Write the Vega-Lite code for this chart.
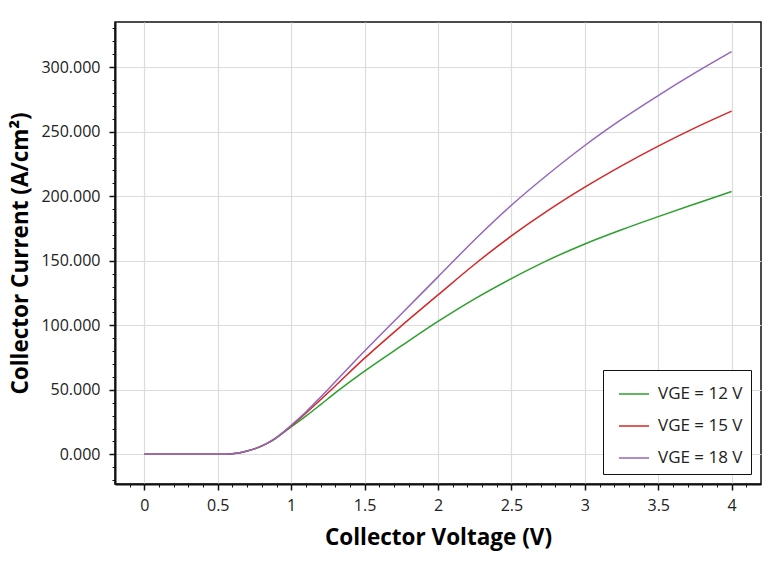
{
  "$schema": "https://vega.github.io/schema/vega-lite/v6.json",
  "width": 646,
  "height": 462,
  "autosize": {"type": "none"},
  "padding": {"left": 115, "top": 22, "right": 23, "bottom": 78},
  "background": "white",
  "data": {
    "values": [
      {"v": 0, "i": 0, "s": "VGE = 12 V"},
      {"v": 0.25, "i": 0, "s": "VGE = 12 V"},
      {"v": 0.5, "i": 0, "s": "VGE = 12 V"},
      {"v": 0.55, "i": 0.1, "s": "VGE = 12 V"},
      {"v": 0.6, "i": 0.4, "s": "VGE = 12 V"},
      {"v": 0.65, "i": 1.2, "s": "VGE = 12 V"},
      {"v": 0.7, "i": 2.5, "s": "VGE = 12 V"},
      {"v": 0.75, "i": 4.2, "s": "VGE = 12 V"},
      {"v": 0.8, "i": 6.4, "s": "VGE = 12 V"},
      {"v": 0.85, "i": 9.2, "s": "VGE = 12 V"},
      {"v": 0.9, "i": 12.8, "s": "VGE = 12 V"},
      {"v": 0.95, "i": 17.0, "s": "VGE = 12 V"},
      {"v": 1.0, "i": 21.3, "s": "VGE = 12 V"},
      {"v": 1.1, "i": 29.6, "s": "VGE = 12 V"},
      {"v": 1.2, "i": 38.5, "s": "VGE = 12 V"},
      {"v": 1.3, "i": 47.6, "s": "VGE = 12 V"},
      {"v": 1.5, "i": 64.5, "s": "VGE = 12 V"},
      {"v": 1.75, "i": 84.0, "s": "VGE = 12 V"},
      {"v": 2.0, "i": 103.0, "s": "VGE = 12 V"},
      {"v": 2.25, "i": 120.5, "s": "VGE = 12 V"},
      {"v": 2.5, "i": 136.2, "s": "VGE = 12 V"},
      {"v": 2.75, "i": 150.5, "s": "VGE = 12 V"},
      {"v": 3.0, "i": 163.0, "s": "VGE = 12 V"},
      {"v": 3.25, "i": 174.0, "s": "VGE = 12 V"},
      {"v": 3.5, "i": 184.2, "s": "VGE = 12 V"},
      {"v": 3.75, "i": 194.0, "s": "VGE = 12 V"},
      {"v": 4.0, "i": 203.6, "s": "VGE = 12 V"},

      {"v": 0, "i": 0, "s": "VGE = 15 V"},
      {"v": 0.25, "i": 0, "s": "VGE = 15 V"},
      {"v": 0.5, "i": 0, "s": "VGE = 15 V"},
      {"v": 0.55, "i": 0.1, "s": "VGE = 15 V"},
      {"v": 0.6, "i": 0.4, "s": "VGE = 15 V"},
      {"v": 0.65, "i": 1.2, "s": "VGE = 15 V"},
      {"v": 0.7, "i": 2.5, "s": "VGE = 15 V"},
      {"v": 0.75, "i": 4.2, "s": "VGE = 15 V"},
      {"v": 0.8, "i": 6.5, "s": "VGE = 15 V"},
      {"v": 0.85, "i": 9.4, "s": "VGE = 15 V"},
      {"v": 0.9, "i": 13.0, "s": "VGE = 15 V"},
      {"v": 0.95, "i": 17.3, "s": "VGE = 15 V"},
      {"v": 1.0, "i": 22.0, "s": "VGE = 15 V"},
      {"v": 1.1, "i": 31.9, "s": "VGE = 15 V"},
      {"v": 1.2, "i": 42.3, "s": "VGE = 15 V"},
      {"v": 1.3, "i": 53.0, "s": "VGE = 15 V"},
      {"v": 1.5, "i": 74.5, "s": "VGE = 15 V"},
      {"v": 1.75, "i": 99.5, "s": "VGE = 15 V"},
      {"v": 2.0, "i": 123.5, "s": "VGE = 15 V"},
      {"v": 2.25, "i": 147.3, "s": "VGE = 15 V"},
      {"v": 2.5, "i": 169.2, "s": "VGE = 15 V"},
      {"v": 2.75, "i": 189.0, "s": "VGE = 15 V"},
      {"v": 3.0, "i": 207.0, "s": "VGE = 15 V"},
      {"v": 3.25, "i": 223.5, "s": "VGE = 15 V"},
      {"v": 3.5, "i": 238.8, "s": "VGE = 15 V"},
      {"v": 3.75, "i": 253.0, "s": "VGE = 15 V"},
      {"v": 4.0, "i": 266.0, "s": "VGE = 15 V"},

      {"v": 0, "i": 0, "s": "VGE = 18 V"},
      {"v": 0.25, "i": 0, "s": "VGE = 18 V"},
      {"v": 0.5, "i": 0, "s": "VGE = 18 V"},
      {"v": 0.55, "i": 0.1, "s": "VGE = 18 V"},
      {"v": 0.6, "i": 0.4, "s": "VGE = 18 V"},
      {"v": 0.65, "i": 1.2, "s": "VGE = 18 V"},
      {"v": 0.7, "i": 2.5, "s": "VGE = 18 V"},
      {"v": 0.75, "i": 4.2, "s": "VGE = 18 V"},
      {"v": 0.8, "i": 6.5, "s": "VGE = 18 V"},
      {"v": 0.85, "i": 9.5, "s": "VGE = 18 V"},
      {"v": 0.9, "i": 13.2, "s": "VGE = 18 V"},
      {"v": 0.95, "i": 17.6, "s": "VGE = 18 V"},
      {"v": 1.0, "i": 22.5, "s": "VGE = 18 V"},
      {"v": 1.1, "i": 32.8, "s": "VGE = 18 V"},
      {"v": 1.2, "i": 44.3, "s": "VGE = 18 V"},
      {"v": 1.3, "i": 56.2, "s": "VGE = 18 V"},
      {"v": 1.5, "i": 80.0, "s": "VGE = 18 V"},
      {"v": 1.75, "i": 108.8, "s": "VGE = 18 V"},
      {"v": 2.0, "i": 137.5, "s": "VGE = 18 V"},
      {"v": 2.25, "i": 166.3, "s": "VGE = 18 V"},
      {"v": 2.5, "i": 193.0, "s": "VGE = 18 V"},
      {"v": 2.75, "i": 217.0, "s": "VGE = 18 V"},
      {"v": 3.0, "i": 239.3, "s": "VGE = 18 V"},
      {"v": 3.25, "i": 259.5, "s": "VGE = 18 V"},
      {"v": 3.5, "i": 278.0, "s": "VGE = 18 V"},
      {"v": 3.75, "i": 295.5, "s": "VGE = 18 V"},
      {"v": 4.0, "i": 312.0, "s": "VGE = 18 V"}
    ]
  },
  "layer": [
    {
      "mark": {"type": "line", "interpolate": "monotone", "strokeWidth": 1.5},
      "encoding": {
        "x": {
          "field": "v",
          "type": "quantitative",
          "scale": {"domain": [-0.2, 4.2], "nice": false, "zero": false},
          "axis": {
            "orient": "bottom",
            "title": "Collector Voltage (V)",
            "values": [0, 0.5, 1, 1.5, 2, 2.5, 3, 3.5, 4],
            "format": "~g",
            "labelPadding": 7,
            "titlePadding": 13
          }
        },
        "y": {
          "field": "i",
          "type": "quantitative",
          "scale": {"domain": [-23, 335], "nice": false, "zero": false},
          "axis": {
            "orient": "left",
            "title": "Collector Current (A/cm²)",
            "values": [0, 50, 100, 150, 200, 250, 300],
            "format": ".3f",
            "labelPadding": 9,
            "titlePadding": 8
          }
        },
        "color": {
          "field": "s",
          "type": "nominal",
          "scale": {
            "domain": ["VGE = 12 V", "VGE = 15 V", "VGE = 18 V"],
            "range": ["#2ca02c", "#d62728", "#9467bd"]
          },
          "legend": {
            "title": null,
            "orient": "bottom-right",
            "offset": 10,
            "symbolType": "stroke",
            "symbolSize": 900,
            "symbolStrokeWidth": 1.5,
            "symbolOffset": 7,
            "labelFontSize": 17,
            "labelColor": "#222",
            "labelOffset": 8,
            "rowPadding": 8,
            "padding": 8,
            "strokeColor": "#111",
            "fillColor": "white"
          }
        }
      }
    },
    {
      "mark": {"type": "point", "opacity": 0},
      "encoding": {
        "x": {
          "field": "v",
          "type": "quantitative",
          "axis": {
            "orient": "bottom",
            "title": null,
            "labels": false,
            "grid": false,
            "domain": false,
            "tickSize": 3,
            "tickWidth": 1,
            "values": [-0.1, 0.1, 0.2, 0.3, 0.4, 0.6, 0.7, 0.8, 0.9, 1.1, 1.2, 1.3, 1.4, 1.6, 1.7, 1.8, 1.9, 2.1, 2.2, 2.3, 2.4, 2.6, 2.7, 2.8, 2.9, 3.1, 3.2, 3.3, 3.4, 3.6, 3.7, 3.8, 3.9, 4.1]
          }
        },
        "y": {
          "field": "i",
          "type": "quantitative",
          "axis": {
            "orient": "left",
            "title": null,
            "labels": false,
            "grid": false,
            "domain": false,
            "tickSize": 3,
            "tickWidth": 1,
            "values": [-20, -10, 10, 20, 30, 40, 60, 70, 80, 90, 110, 120, 130, 140, 160, 170, 180, 190, 210, 220, 230, 240, 260, 270, 280, 290, 310, 320, 330]
          }
        }
      }
    }
  ],
  "resolve": {"axis": {"x": "independent", "y": "independent"}},
  "config": {
    "font": "Open Sans",
    "view": {"stroke": "#111", "strokeWidth": 1.5},
    "axis": {
      "domainColor": "#111",
      "domainWidth": 2,
      "tickColor": "#111",
      "tickSize": 6,
      "tickWidth": 1.5,
      "gridColor": "#dcdcdc",
      "gridWidth": 1.2,
      "labelFont": "Open Sans",
      "labelFontSize": 16,
      "labelColor": "#222",
      "titleFont": "Open Sans",
      "titleFontSize": 22.5,
      "titleFontWeight": "bold",
      "titleColor": "#000"
    },
    "legend": {"labelFont": "Open Sans"}
  }
}
